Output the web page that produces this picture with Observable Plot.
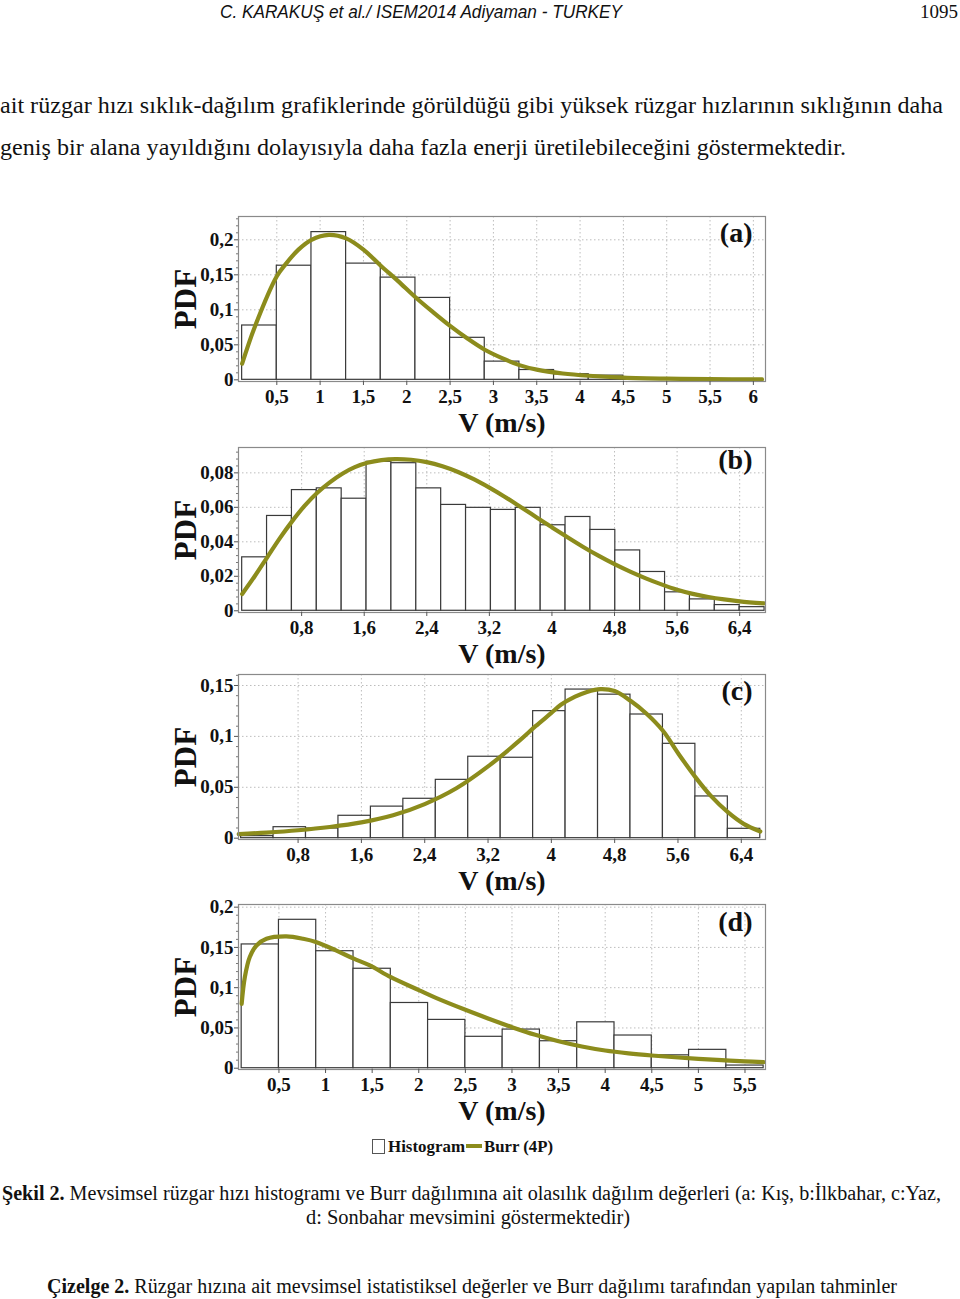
<!DOCTYPE html>
<html><head><meta charset="utf-8">
<script src="https://cdn.jsdelivr.net/npm/d3@7"></script>
<script src="https://cdn.jsdelivr.net/npm/@observablehq/plot@0.6"></script>
<style>
html,body{margin:0;padding:0;background:#fff}
body{width:960px;height:1299px;position:relative;overflow:hidden}
.panel{position:absolute;left:0;width:960px}
#overlay{position:absolute;left:0;top:0}
</style></head>
<body>
<svg id="overlay" width="960" height="1299"></svg>
<script>
const serif = "'Liberation Serif','Times New Roman',serif";
const olive = "#8c8c1c";

// ---- Panel (a) Kış ----
const aBinStart = [0.1,0.5,0.9,1.3,1.7,2.1,2.5,2.9,3.3,3.7,4.1,4.5,4.9];
const aBinWidth = 0.4;
const aHist = [0.0776,0.163,0.211,0.166,0.146,0.117,0.060,0.026,0.014,0.008,0.006,0.002,0.001];
const aCurveX = [0.1,0.25,0.5,0.6,0.75,0.9,1.1,1.3,1.5,1.7,1.9,2.1,2.3,2.5,2.7,2.9,3.1,3.3,3.5,3.8,4.1,4.5,5.0,5.5,6.1];
const aCurveY = [0.023,0.077,0.148,0.165,0.186,0.200,0.207,0.202,0.186,0.163,0.141,0.118,0.097,0.077,0.059,0.043,0.031,0.021,0.0145,0.009,0.0058,0.0032,0.0017,0.001,0.0006];
const aXTicks = [0.5,1,1.5,2,2.5,3,3.5,4,4.5,5,5.5,6];
const aXLabels = ["0,5","1","1,5","2","2,5","3","3,5","4","4,5","5","5,5","6"];
const aYTicks = [0,0.05,0.1,0.15,0.2];
const aYLabels = ["0","0,05","0,1","0,15","0,2"];

// ---- Panel (b) İlkbahar ----
const bBinStart = [0.04,0.358,0.676,0.994,1.312,1.63,1.948,2.266,2.584,2.902,3.22,3.538,3.856,4.174,4.492,4.81,5.128,5.446,5.764,6.082,6.40];
const bBinWidth = 0.318;
const bHist = [0.031,0.055,0.070,0.071,0.065,0.0864,0.0856,0.071,0.0614,0.0597,0.0585,0.0597,0.0496,0.0544,0.0469,0.035,0.0225,0.0107,0.0066,0.0033,0.0021];
const bCurveX = [0.04,0.2,0.36,0.52,0.68,0.84,1.0,1.16,1.32,1.48,1.64,1.82,2.0,2.2,2.4,2.6,2.8,3.0,3.2,3.4,3.6,3.8,4.0,4.2,4.4,4.6,4.8,5.0,5.2,5.4,5.6,5.8,6.0,6.2,6.4,6.71];
const bCurveY = [0.0097,0.020,0.031,0.042,0.052,0.061,0.0685,0.0745,0.0795,0.0833,0.0858,0.0874,0.0880,0.0876,0.0862,0.0838,0.0805,0.0763,0.0714,0.0660,0.0602,0.0543,0.0484,0.0426,0.0370,0.0318,0.0270,0.0227,0.0188,0.0153,0.0122,0.0098,0.0080,0.0066,0.0055,0.0043];
const bXTicks = [0.8,1.6,2.4,3.2,4,4.8,5.6,6.4];
const bXLabels = ["0,8","1,6","2,4","3,2","4","4,8","5,6","6,4"];
const bYTicks = [0,0.02,0.04,0.06,0.08];
const bYLabels = ["0","0,02","0,04","0,06","0,08"];

// ---- Panel (c) Yaz ----
const cBinStart = [0.08,0.49,0.90,1.31,1.72,2.13,2.54,2.95,3.36,3.77,4.18,4.59,5.00,5.41,5.82,6.23];
const cBinWidth = 0.41;
const cHist = [0.002,0.0108,0.0095,0.022,0.031,0.0387,0.0573,0.080,0.079,0.1248,0.146,0.141,0.1215,0.0927,0.041,0.0092];
const cCurveX = [0.05,0.4,0.8,1.2,1.6,2.0,2.4,2.8,3.2,3.6,3.8,4.0,4.12,4.3,4.45,4.62,4.8,5.0,5.2,5.41,5.61,5.82,6.01,6.23,6.43,6.64];
const cCurveY = [0.0040,0.0055,0.0078,0.011,0.0155,0.0225,0.0335,0.049,0.0705,0.096,0.110,0.123,0.131,0.139,0.1437,0.1465,0.1445,0.135,0.1225,0.1055,0.0825,0.060,0.042,0.0255,0.0141,0.0066];
const cXTicks = [0.8,1.6,2.4,3.2,4,4.8,5.6,6.4];
const cXLabels = ["0,8","1,6","2,4","3,2","4","4,8","5,6","6,4"];
const cYTicks = [0,0.05,0.1,0.15];
const cYLabels = ["0","0,05","0,1","0,15"];

// ---- Panel (d) Sonbahar ----
const dBinStart = [0.1,0.5,0.9,1.3,1.7,2.1,2.5,2.9,3.3,3.7,4.1,4.5,4.9,5.3];
const dBinWidth = 0.4;
const dHist = [0.1537,0.1843,0.1453,0.1235,0.081,0.060,0.039,0.048,0.0335,0.057,0.0406,0.016,0.0228,0.0033];
const dCurveX = [0.1,0.134,0.187,0.259,0.366,0.58,0.76,0.903,1.117,1.303,1.475,1.70,2.0,2.19,2.5,2.75,3.0,3.25,3.5,3.75,4.0,4.25,4.5,4.75,5.0,5.25,5.5,5.7];
const dCurveY = [0.080,0.113,0.138,0.1524,0.1607,0.1636,0.1607,0.1565,0.146,0.136,0.1276,0.113,0.097,0.087,0.0725,0.0615,0.0510,0.0415,0.0335,0.027,0.022,0.0185,0.0158,0.0136,0.0117,0.0100,0.0085,0.0075];
const dXTicks = [0.5,1,1.5,2,2.5,3,3.5,4,4.5,5,5.5];
const dXLabels = ["0,5","1","1,5","2","2,5","3","3,5","4","4,5","5","5,5"];
const dYTicks = [0,0.05,0.1,0.15,0.2];
const dYLabels = ["0","0,05","0,1","0,15","0,2"];

const panels = [
  {letter:"(a)", top:206, xDomain:[0.058,6.14], yDomain:[-0.0024,0.2333], binStart:aBinStart, binWidth:aBinWidth, hist:aHist, curveX:aCurveX, curveY:aCurveY, xTicks:aXTicks, xLabels:aXLabels, yTicks:aYTicks, yLabels:aYLabels, minorStep:0.01, letterDy:6},
  {letter:"(b)", top:437, xDomain:[-0.007,6.73], yDomain:[-0.001,0.0947], binStart:bBinStart, binWidth:bBinWidth, hist:bHist, curveX:bCurveX, curveY:bCurveY, xTicks:bXTicks, xLabels:bXLabels, yTicks:bYTicks, yLabels:bYLabels, minorStep:0.004, letterDy:2},
  {letter:"(c)", top:664, xDomain:[0.047,6.706], yDomain:[-0.0013,0.1608], binStart:cBinStart, binWidth:cBinWidth, hist:cHist, curveX:cCurveX, curveY:cCurveY, xTicks:cXTicks, xLabels:cXLabels, yTicks:cYTicks, yLabels:cYLabels, minorStep:0.01, letterDy:6},
  {letter:"(d)", top:894, xDomain:[0.066,5.72], yDomain:[-0.0016,0.2033], binStart:dBinStart, binWidth:dBinWidth, hist:dHist, curveX:dCurveX, curveY:dCurveY, xTicks:dXTicks, xLabels:dXLabels, yTicks:dYTicks, yLabels:dYLabels, minorStep:0.01, letterDy:7}
];

function makePanel(p) {
  const bins = p.binStart.map((x, i) => ({x1: x, x2: x + p.binWidth, v: p.hist[i]}));
  const curve = p.curveX.map((x, i) => ({x, y: p.curveY[i]}));
  const minor = d3.range(0, p.yDomain[1], p.minorStep).filter(v => !p.yTicks.some(t => Math.abs(t - v) < 1e-9));
  const fx = d => p.xLabels[p.xTicks.indexOf(d)];
  const fy = d => p.yLabels[p.yTicks.indexOf(d)];
  return Plot.plot({
    width: 960, height: 240,
    marginLeft: 238, marginRight: 195, marginTop: 10, marginBottom: 65,
    style: {fontFamily: serif, background: "transparent", overflow: "visible", color: "#111"},
    x: {domain: p.xDomain},
    y: {domain: p.yDomain},
    marks: [
      Plot.gridX(p.xTicks, {stroke: "#bdbdbd", strokeOpacity: 1, strokeDasharray: "1.5,2.5"}),
      Plot.gridY(p.yTicks.filter(t => t > 0), {stroke: "#bdbdbd", strokeOpacity: 1, strokeDasharray: "1.5,2.5"}),
      Plot.rect(bins, {x1: "x1", x2: "x2", y1: () => 0, y2: "v", fill: "white", stroke: "#3a3a3a", strokeWidth: 1.2}),
      Plot.line(curve, {x: "x", y: "y", curve: "catmull-rom", stroke: olive, strokeWidth: 4.2}),
      Plot.frame({stroke: "#8a8a8a", strokeWidth: 1.2}),
      Plot.axisX(p.xTicks, {tickFormat: fx, tickSize: 4, tickPadding: 4, fontSize: 19, fontWeight: "bold", label: null, stroke: "#555"}),
      Plot.axisY(p.yTicks, {tickFormat: fy, tickSize: 4, tickPadding: 1, fontSize: 19, fontWeight: "bold", label: null, stroke: "#555"}),
      Plot.axisY(minor, {tickFormat: () => "", tickSize: 2, label: null, stroke: "#777"}),
      Plot.text([p.letter], {text: d => d, frameAnchor: "top-right", dx: -13, dy: p.letterDy, textAnchor: "end", lineAnchor: "top", fontSize: 28, fontWeight: "bold", fill: "#111"}),
      Plot.text(["V (m/s)"], {text: d => d, frameAnchor: "bottom", dy: 42, textAnchor: "middle", lineAnchor: "middle", fontSize: 28, fontWeight: "bold", fill: "#111"}),
      Plot.text(["PDF"], {text: d => d, frameAnchor: "left", dx: -52, rotate: -90, textAnchor: "middle", lineAnchor: "middle", fontSize: 31, fontWeight: "bold", fill: "#111"})
    ]
  });
}

for (const p of panels) {
  const div = document.createElement("div");
  div.className = "panel";
  div.style.top = p.top + "px";
  div.appendChild(makePanel(p));
  document.body.appendChild(div);
}

// ---- Page text (header, paragraph, legend, captions) ----
const ns = "http://www.w3.org/2000/svg";
const ov = document.getElementById("overlay");
document.body.appendChild(ov);
function txt(parts, x, y, size, width, opts = {}) {
  const t = document.createElementNS(ns, "text");
  t.setAttribute("x", x); t.setAttribute("y", y);
  t.setAttribute("font-size", size);
  t.setAttribute("font-family", opts.family || serif);
  if (opts.italic) t.setAttribute("font-style", "italic");
  if (opts.bold) t.setAttribute("font-weight", "bold");
  t.setAttribute("fill", opts.fill || "#111");
  if (width) { t.setAttribute("textLength", width); t.setAttribute("lengthAdjust", "spacingAndGlyphs"); }
  for (const [s, b] of parts) {
    const ts = document.createElementNS(ns, "tspan");
    if (b) ts.setAttribute("font-weight", "bold");
    ts.textContent = s;
    t.appendChild(ts);
  }
  ov.appendChild(t);
  return t;
}
const headerText = "C. KARAKUŞ et al./ ISEM2014 Adiyaman - TURKEY";
const pageNo = "1095";
const para1 = "ait rüzgar hızı sıklık-dağılım grafiklerinde görüldüğü gibi yüksek rüzgar hızlarının sıklığının daha";
const para2 = "geniş bir alana yayıldığını dolayısıyla daha fazla enerji üretilebileceğini göstermektedir.";
const legendHist = "Histogram", legendBurr = "Burr (4P)";
const cap1b = "Şekil 2.", cap1 = " Mevsimsel rüzgar hızı histogramı ve Burr dağılımına ait olasılık dağılım değerleri (a: Kış, b:İlkbahar, c:Yaz,";
const cap2 = "d: Sonbahar mevsimini göstermektedir)";
const tab1b = "Çizelge 2.", tab1 = " Rüzgar hızına ait mevsimsel istatistiksel değerler ve Burr dağılımı tarafından yapılan tahminler";

txt([[headerText, false]], 220, 18, 18, 402, {italic: true, family: "'Liberation Sans',Arial,sans-serif"});
txt([[pageNo, false]], 920, 18, 19, 38);
txt([[para1, false]], 0, 113, 24, 943);
txt([[para2, false]], 0, 155, 24, 846);

// legend
const lg = document.createElementNS(ns, "rect");
lg.setAttribute("x", 372.5); lg.setAttribute("y", 1139.5); lg.setAttribute("width", 12); lg.setAttribute("height", 14);
lg.setAttribute("fill", "white"); lg.setAttribute("stroke", "#555");
ov.appendChild(lg);
txt([[legendHist, true]], 388, 1152, 17, 77);
const ll = document.createElementNS(ns, "line");
ll.setAttribute("x1", 466); ll.setAttribute("x2", 482); ll.setAttribute("y1", 1146); ll.setAttribute("y2", 1146);
ll.setAttribute("stroke", olive); ll.setAttribute("stroke-width", 4);
ov.appendChild(ll);
txt([[legendBurr, true]], 484, 1152, 17, 69);

txt([[cap1b, true], [cap1, false]], 2, 1200, 20, 939);
txt([[cap2, false]], 306, 1224, 20, 324);
txt([[tab1b, true], [tab1, false]], 47, 1293, 20, 850);
</script>
</body></html>
